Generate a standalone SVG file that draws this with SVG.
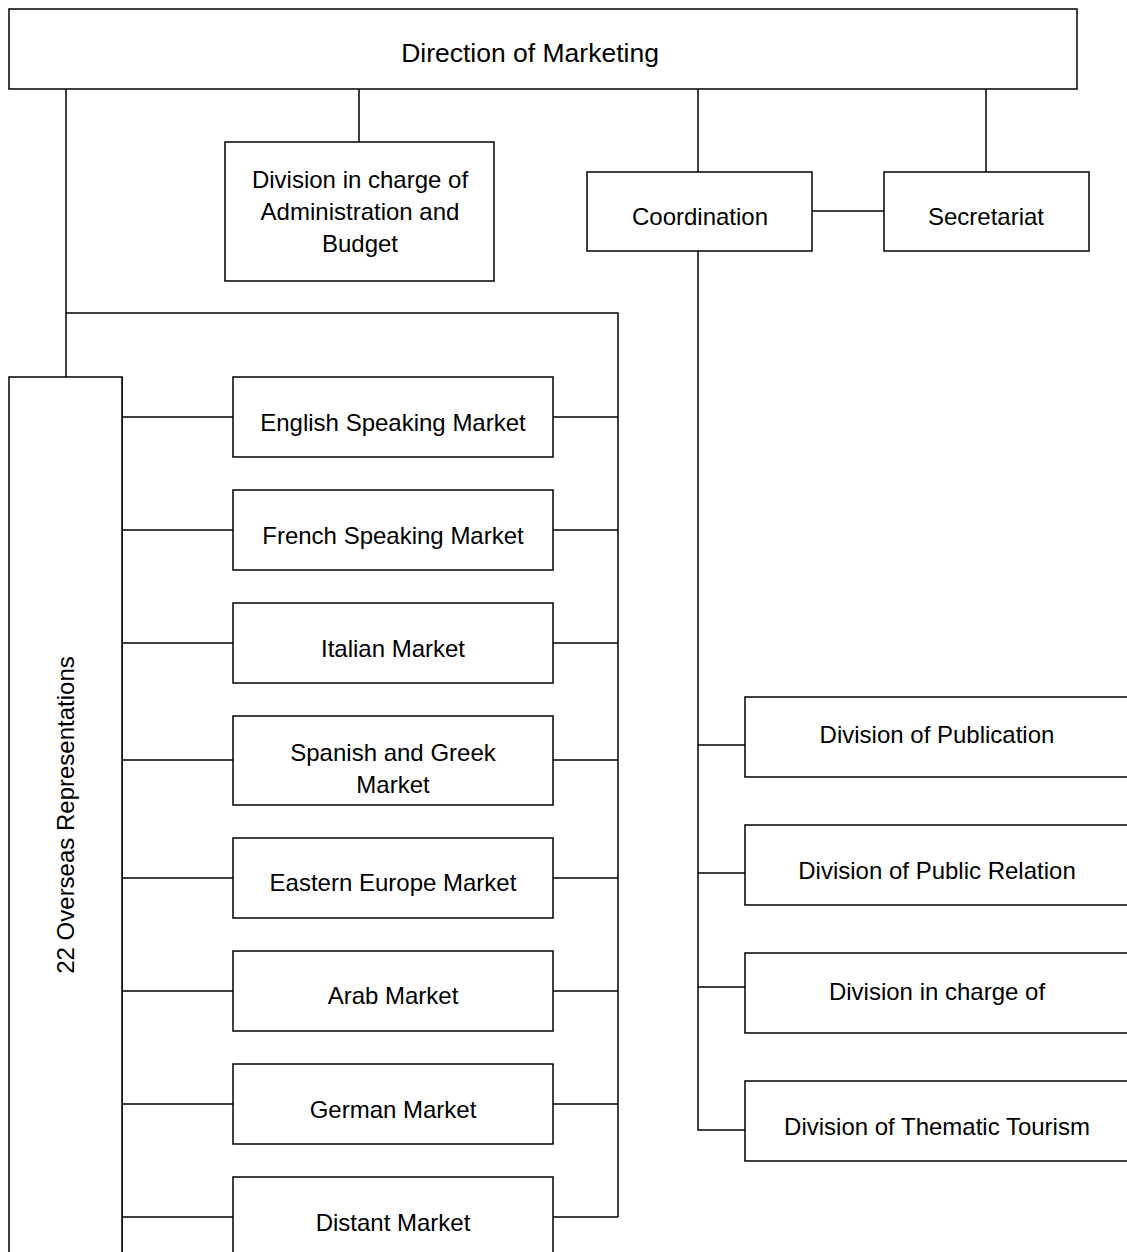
<svg xmlns="http://www.w3.org/2000/svg" width="1127" height="1252" viewBox="0 0 1127 1252">
<style>
.box{fill:#fff;stroke:#000;stroke-width:1.5}
.ln{fill:none;stroke:#000;stroke-width:1.5}
text{font-family:"Liberation Sans",Arial,sans-serif;font-size:24px;fill:#000;text-anchor:middle}
</style>
<rect width="1127" height="1252" fill="#fff"/>
<g id="connectors">
<path class="ln" d="M66 89V377M359 89V142M698 89V172M986 89V172M812 211H884M66 313H618V1217M698 251V1130H745M698 745H745M698 873H745M698 987H745"/>
<path class="ln" d="M122 417H233M122 530H233M122 643H233M122 760H233M122 878H233M122 991H233M122 1104H233M122 1217H233"/>
<path class="ln" d="M553 417H618M553 530H618M553 643H618M553 760H618M553 878H618M553 991H618M553 1104H618M553 1217H618"/>
<path class="ln" d="M122 377V1252"/>
</g>
<g id="direction"><rect class="box" x="9" y="9" width="1068" height="80"/><text x="530" y="62" style="font-size:26.5px">Direction of Marketing</text></g>
<g id="admin"><rect class="box" x="225" y="142" width="269" height="139"/><text x="360" y="188">Division in charge of</text><text x="360" y="220">Administration and</text><text x="360" y="252">Budget</text></g>
<g id="coordination"><rect class="box" x="587" y="172" width="225" height="79"/><text x="700" y="225">Coordination</text></g>
<g id="secretariat"><rect class="box" x="884" y="172" width="205" height="79"/><text x="986" y="225">Secretariat</text></g>
<g id="overseas"><rect class="box" x="9" y="377" width="113" height="900"/><text transform="translate(74 815) rotate(-90)">22 Overseas Representations</text></g>
<g id="english"><rect class="box" x="233" y="377" width="320" height="80"/><text x="393" y="431">English Speaking Market</text></g>
<g id="french"><rect class="box" x="233" y="490" width="320" height="80"/><text x="393" y="544">French Speaking Market</text></g>
<g id="italian"><rect class="box" x="233" y="603" width="320" height="80"/><text x="393" y="657">Italian Market</text></g>
<g id="spanish"><rect class="box" x="233" y="716" width="320" height="89"/><text x="393" y="761">Spanish and Greek</text><text x="393" y="793">Market</text></g>
<g id="eastern"><rect class="box" x="233" y="838" width="320" height="80"/><text x="393" y="891">Eastern Europe Market</text></g>
<g id="arab"><rect class="box" x="233" y="951" width="320" height="80"/><text x="393" y="1004">Arab Market</text></g>
<g id="german"><rect class="box" x="233" y="1064" width="320" height="80"/><text x="393" y="1118">German Market</text></g>
<g id="distant"><rect class="box" x="233" y="1177" width="320" height="100"/><text x="393" y="1231">Distant Market</text></g>
<g id="publication"><rect class="box" x="745" y="697" width="400" height="80"/><text x="937" y="743">Division of Publication</text></g>
<g id="publicrel"><rect class="box" x="745" y="825" width="400" height="80"/><text x="937" y="879">Division of Public Relation</text></g>
<g id="incharge"><rect class="box" x="745" y="953" width="400" height="80"/><text x="937" y="1000">Division in charge of</text></g>
<g id="thematic"><rect class="box" x="745" y="1081" width="400" height="80"/><text x="937" y="1135">Division of Thematic Tourism</text></g>
</svg>
